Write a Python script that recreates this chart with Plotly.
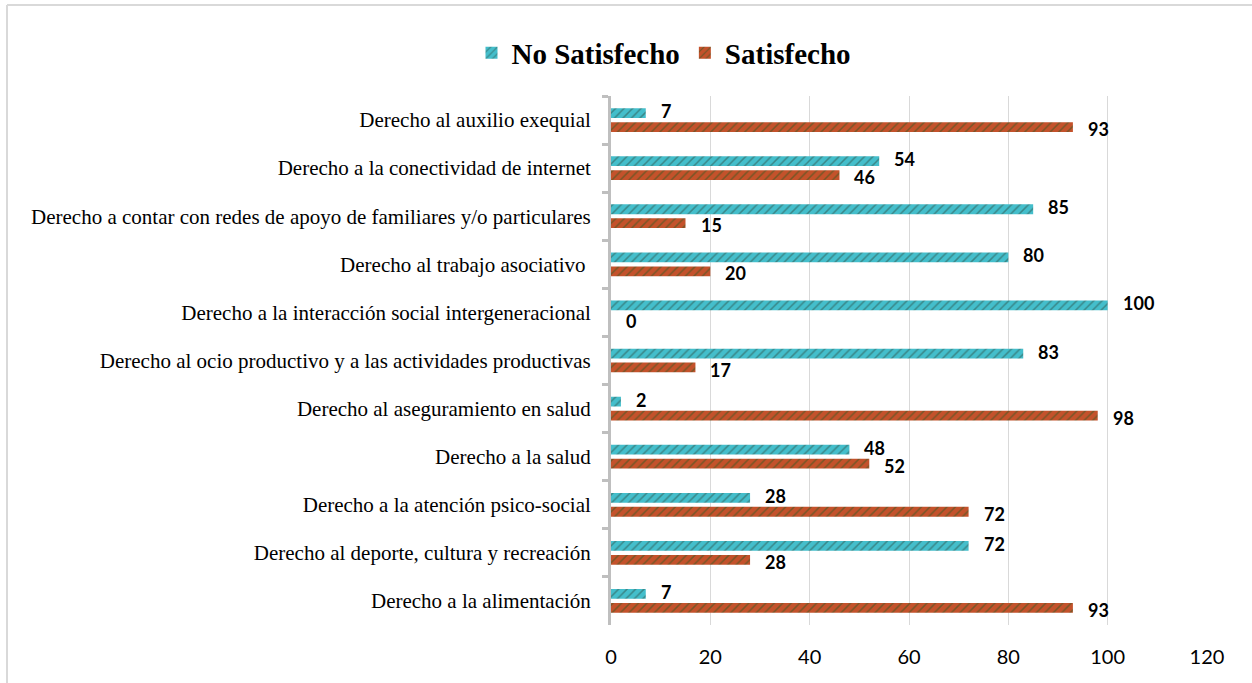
import plotly.graph_objects as go

categories = [
    "Derecho al auxilio exequial",
    "Derecho a la conectividad de internet",
    "Derecho a contar con redes de apoyo de familiares y/o particulares",
    "Derecho al trabajo asociativo ",
    "Derecho a la interacción social intergeneracional",
    "Derecho al ocio productivo y a las actividades productivas",
    "Derecho al aseguramiento en salud",
    "Derecho a la salud",
    "Derecho a la atención psico-social",
    "Derecho al deporte, cultura y recreación",
    "Derecho a la alimentación",
]
no_satisfecho = [7, 54, 85, 80, 100, 83, 2, 48, 28, 72, 7]
satisfecho = [93, 46, 15, 20, 0, 17, 98, 52, 72, 28, 93]
series_names = ["No Satisfecho", "Satisfecho"]
x_ticks = [0, 20, 40, 60, 80, 100, 120]

teal = "#44BECB"
rust = "#C4522B"
serif = "Times New Roman, Liberation Serif, serif"

L, T, W, H = 611, 96, 596, 529
fig = go.Figure()
fig.add_trace(go.Bar(
    y=categories, x=no_satisfecho, orientation="h", name=series_names[0],
    marker=dict(color=teal, line=dict(width=0),
                pattern=dict(shape="/", fgcolor="#2E4F46", bgcolor=teal, size=6, solidity=0.25)),
))
fig.add_trace(go.Bar(
    y=categories, x=satisfecho, orientation="h", name=series_names[1],
    marker=dict(color=rust, line=dict(width=0),
                pattern=dict(shape="/", fgcolor="#2B5A22", bgcolor=rust, size=6, solidity=0.25)),
))

annotations = []
for vals, ys in ((no_satisfecho, 9), (satisfecho, -9)):
    for cat, v in zip(categories, vals):
        annotations.append(dict(x=v, y=cat, text=f"<b>{v}</b>", showarrow=False,
                                xanchor="left", yanchor="middle", xshift=13, yshift=ys,
                                font=dict(family="Lato", size=18, color="black")))

fig.update_layout(
    width=1252, height=683,
    margin=dict(l=L, r=1252 - L - W, t=T, b=683 - T - H, autoexpand=False),
    paper_bgcolor="white", plot_bgcolor="white",
    barmode="group", bargap=0.42, bargroupgap=0.3,
    showlegend=True,
    legend=dict(orientation="h", x=(664 - L) / W, y=1 + (T - 53) / H,
                xanchor="center", yanchor="middle",
                font=dict(family=serif, size=29, color="black", weight="bold"),
                itemwidth=30, traceorder="normal", bgcolor="rgba(0,0,0,0)"),
    xaxis=dict(range=[0, 120], tickvals=x_ticks, showgrid=True, gridcolor="#D9D9D9",
               gridwidth=1, zeroline=False, showline=False, ticks="",
               ticklabelstandoff=18,
               tickfont=dict(family="Lato", size=20, color="black")),
    yaxis=dict(autorange="reversed", type="category", showline=True, linecolor="#BFBFBF",
               linewidth=3, ticks="outside", tickson="boundaries", ticklen=6,
               tickcolor="#BFBFBF", tickwidth=3, showgrid=False, ticklabelstandoff=13,
               tickfont=dict(family=serif, size=21, color="black")),
    annotations=annotations,
    shapes=[
        dict(type="line", xref="paper", yref="paper", x0=(7 - L) / W, x1=(1252 - L) / W,
             y0=1 + (T - 5) / H, y1=1 + (T - 5) / H, line=dict(color="#D9D9D9", width=2)),
        dict(type="line", xref="paper", yref="paper", x0=(7 - L) / W, x1=(7 - L) / W,
             y0=-0.2, y1=1 + (T - 5) / H, line=dict(color="#D9D9D9", width=2)),
    ],
)

fig.write_html("out.html", config={"displayModeBar": False},
               post_script="document.body.style.margin='0px'; document.body.style.overflow='hidden';")
